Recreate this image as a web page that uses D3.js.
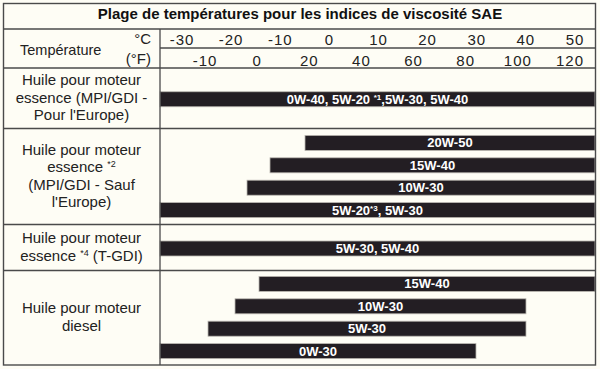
<!DOCTYPE html>
<html>
<head>
<meta charset="utf-8">
<script src="https://cdn.jsdelivr.net/npm/d3@7/dist/d3.min.js"></script>
<style>
  html, body { margin: 0; padding: 0; background: #fefdf5; }
  svg { display: block; }
  text { font-family: "Liberation Sans", Arial, Helvetica, sans-serif; }
</style>
</head>
<body>
<svg id="chart" width="600" height="369"></svg>
<script>
// ---------- data ----------
const title = "Plage de températures pour les indices de viscosité SAE";
const headerLabel = "Température";
const unitC = "°C";
const unitF = "(°F)";
const celsiusTicks = [-30, -20, -10, 0, 10, 20, 30, 40, 50];
const fahrenheitTicks = [-10, 0, 20, 40, 60, 80, 100, 120];

// row labels (lines; [text, superscript, text])
const groupLines = [
  [["Huile pour moteur", ""], ["essence (MPI/GDI -", ""], ["Pour l'Europe)", ""]],
  [["Huile pour moteur", ""], ["essence ", "*2"], ["(MPI/GDI - Sauf", ""], ["l'Europe)", ""]],
  [["Huile pour moteur", ""], ["essence ", "*4", " (T-GDI)"]],
  [["Huile pour moteur", ""], ["diesel", ""]]
];

// bars (temperature range in °C; values beyond the axis run to the table edge)
const barGroup = [0, 1, 1, 1, 1, 2, 3, 3, 3, 3];
const barText = [
  ["0W-40, 5W-20 ", "*1", ",5W-30, 5W-40"],
  ["20W-50", "", ""],
  ["15W-40", "", ""],
  ["10W-30", "", ""],
  ["5W-20", "*3", ", 5W-30"],
  ["5W-30, 5W-40", "", ""],
  ["15W-40", "", ""],
  ["10W-30", "", ""],
  ["5W-30", "", ""],
  ["0W-30", "", ""]
];
const barFrom = [-40, -4.2, -11.2, -15.8, -40, -40, -13.4, -18.2, -23.6, -40];
const barTo   = [60, 60, 60, 60, 60, 60, 60, 40, 40, 30];

// ---------- layout ----------
const L = 3.5, R = 595.5, T = 3.5, B = 365;
const divX = 160;
const yTitle = 29, yC = 48, yF = 68;
const rowHeights = [60.5, 96, 46, 94];
const barH = 15, barStep = 22.4;
const lineCol = "#4a4a4a";
const barCol = "#231e23";
const txtCol = "#222222";

const svg = d3.select("#chart");

const x = d3.scaleLinear().domain([-33.2, 53.8]).range([divX, 595]).clamp(true);
const xC = d3.scalePoint().domain(celsiusTicks).range([182, 575]);
const xF = d3.scalePoint().domain(fahrenheitTicks).range([205, 570]);

// row boundaries
const rowTops = [];
let acc = yF;
rowHeights.forEach(h => { rowTops.push(acc); acc += h; });

// ---------- bars ----------
const barsData = barGroup.map((g, i) => {
  const members = barGroup.map((gg, j) => gg === g ? j : -1).filter(j => j >= 0);
  const k = members.indexOf(i), n = members.length;
  const cy = rowTops[g] + rowHeights[g] / 2 + (n === 1 ? 1 : 0) + (k - (n - 1) / 2) * barStep;
  return { i, g, y: cy - barH / 2, x0: x(barFrom[i]), x1: x(barTo[i]), t: barText[i] };
});

svg.append("g").selectAll("rect").data(barsData).join("rect")
  .attr("x", d => d.x0).attr("y", d => d.y)
  .attr("width", d => d.x1 - d.x0).attr("height", barH)
  .attr("fill", barCol).attr("stroke", "#b9b6b0").attr("stroke-width", 0.8);

const bt = svg.append("g").selectAll("text").data(barsData).join("text")
  .attr("x", d => (d.x0 + d.x1) / 2).attr("y", d => d.y + 12)
  .attr("text-anchor", "middle").attr("fill", "#ffffff")
  .attr("font-weight", "bold").attr("font-size", 13);
bt.append("tspan").text(d => d.t[0]);
bt.append("tspan").attr("font-size", 8).attr("dy", -4).text(d => d.t[1]);
bt.append("tspan").attr("dy", d => d.t[1] ? 4 : 0).text(d => d.t[2]);

// ---------- grid lines ----------
const g = svg.append("g").attr("stroke", lineCol).attr("fill", "none");
g.append("rect").attr("x", L).attr("y", T).attr("width", R - L).attr("height", B - T).attr("stroke-width", 1.4);
[yTitle, yF, ...rowTops.slice(1)].forEach(yy =>
  g.append("line").attr("x1", L).attr("x2", R).attr("y1", yy).attr("y2", yy).attr("stroke-width", 1.3));
g.append("line").attr("x1", divX).attr("x2", R).attr("y1", yC).attr("y2", yC).attr("stroke-width", 1.3);
g.append("line").attr("x1", divX).attr("x2", divX).attr("y1", yTitle).attr("y2", B).attr("stroke-width", 1.3);

// ---------- header text ----------
svg.append("text").attr("x", 300).attr("y", 19).attr("text-anchor", "middle")
  .attr("font-weight", "bold").attr("font-size", 15).attr("fill", "#111").text(title);
svg.append("text").attr("x", 20).attr("y", 55).attr("font-size", 14.5).attr("fill", txtCol).text(headerLabel);
svg.append("text").attr("x", 151).attr("y", 43.5).attr("text-anchor", "end").attr("font-size", 15).attr("fill", txtCol).text(unitC);
svg.append("text").attr("x", 151).attr("y", 63.5).attr("text-anchor", "end").attr("font-size", 15).attr("fill", txtCol).text(unitF);

svg.append("g").selectAll("text").data(celsiusTicks).join("text")
  .attr("x", d => xC(d)).attr("y", 44.5).attr("text-anchor", "middle")
  .attr("font-size", 15).attr("letter-spacing", 1).attr("fill", txtCol).text(d => d);
svg.append("g").selectAll("text").data(fahrenheitTicks).join("text")
  .attr("x", d => xF(d)).attr("y", 66).attr("text-anchor", "middle")
  .attr("font-size", 15).attr("letter-spacing", 1).attr("fill", txtCol).text(d => d);

// ---------- row labels ----------
const lineH = 17.3;
groupLines.forEach((lines, gi) => {
  const cy = rowTops[gi] + rowHeights[gi] / 2;
  lines.forEach((ln, li) => {
    const t = svg.append("text").attr("x", 81.5)
      .attr("y", cy + 4.5 + (li - (lines.length - 1) / 2) * lineH)
      .attr("text-anchor", "middle").attr("font-size", 15).attr("fill", txtCol);
    t.append("tspan").text(ln[0]);
    if (ln[1]) {
      t.append("tspan").attr("font-size", 9).attr("dy", -5).text(ln[1]);
      if (ln[2]) t.append("tspan").attr("dy", 5).text(ln[2]);
    }
  });
});
</script>
</body>
</html>
